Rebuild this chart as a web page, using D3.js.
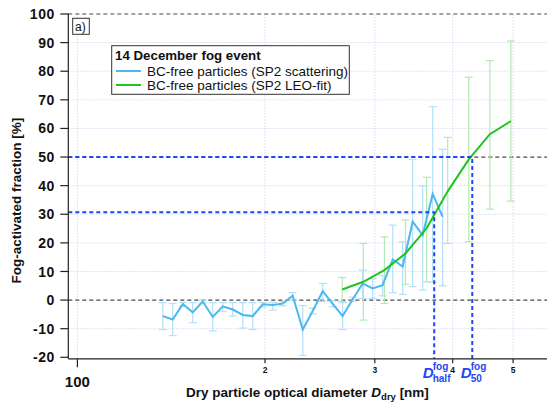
<!DOCTYPE html>
<html>
<head>
<meta charset="utf-8">
<script src="https://cdn.jsdelivr.net/npm/d3@7"></script>
<style>
  html, body { margin: 0; padding: 0; background: #fff; }
  svg { display: block; font-family: "Liberation Sans", Arial, sans-serif; }
</style>
</head>
<body>
<svg id="chart" width="547" height="405"></svg>
<script>
// BC-free particles, SP2 scattering (diameter in nm, activated fraction in %)
const scatDiam = [137.1, 142.2, 147.6, 153.1, 158.9, 164.9, 171.1, 177.5, 184.2, 191.1,
                  198.3, 205.8, 213.5, 221.5, 229.9, 238.5, 247.5, 256.8, 266.4, 276.5,
                  286.9, 297.6, 308.8, 320.5, 332.5, 345.0, 358.0, 371.5, 385.4];
const scatFrac = [-5.6, -6.8, -1.4, -4.3, -0.5, -5.9, -2.2, -3.3, -5.2, -5.6,
                  -1.5, -1.7, -1.2, 1.5, -10.3, -3.8, 3.1, -1.3, -5.6, 0.3,
                  5.8, 4.1, 5.2, 14.2, 11.7, 27.4, 22.7, 37.1, 29.1];
const scatHigh = [-0.9, -1.2, -0.8, -0.9, 0.0, -0.9, -0.9, -0.9, -0.9, -0.9,
                  -0.8, -0.8, -0.5, 2.6, -1.9, -2.8, 5.8, -0.3, -0.9, 1.0,
                  10.5, 7.5, 8.6, 26.2, 20.4, 49.2, 39.9, 67.6, 52.7];
const scatLow  = [-10.3, -12.4, -2.2, -7.9, -1.0, -10.8, -4.0, -5.6, -9.8, -10.3,
                  -2.4, -3.5, -2.0, 0.0, -19.3, -4.8, -0.5, -2.3, -10.3, -0.4,
                  0.6, 0.6, 1.5, 2.6, 2.0, 4.7, 3.5, 6.2, 5.0];

// BC-free particles, SP2 LEO-fit
const leoDiam = [266.0, 287.5, 310.8, 336.0, 363.3, 392.7, 424.5, 458.9, 496.0];
const leoFrac = [3.7, 6.4, 10.5, 16.3, 25.1, 38.0, 49.2, 58.0, 62.6];
const leoHigh = [7.9, 19.8, 22.1, 28.0, 42.9, 56.9, 77.9, 83.7, 90.6];
const leoLow  = [-0.5, -7.0, -1.2, 5.5, 6.4, 19.8, 20.4, 31.8, 34.6];

// Activation diameters and the fractions they refer to
const dHalf = 373.6, fHalf = 30.7;
const d50 = 430.0, f50 = 50;

// Axis ticks
const yTicks = [-20, -10, 0, 10, 20, 30, 40, 50, 60, 70, 80, 90, 100];
const xMajorTicks = [100];
const xMinorTicks = [200, 300, 400, 500];
const xMinorLabels = ["2", "3", "4", "5"];
const refLines = [0, 50, 100];

const svg = d3.select("#chart");
const plotLeft = 68.3, plotRight = 547, plotTop = 14.0, plotBottom = 357.3;

const x = d3.scaleLog().domain([96.7, 566.7]).range([plotLeft, plotRight]);
const y = d3.scaleLinear().domain([-20, 100]).range([plotBottom, plotTop]);

const BLUE = "#4db8ef", BLUE_ERR = "#b4e0f8";
const GREEN = "#1fc41f", GREEN_ERR = "#b2eab2";
const REF_BLUE = "#1f48f2";

// Grid
const grid = svg.append("g").attr("stroke", "#e2e2f6").attr("stroke-width", 1).attr("stroke-dasharray", "2,1");
yTicks.filter(v => v > -20 && v < 100 && !refLines.includes(v)).forEach(v => {
  grid.append("line").attr("x1", plotLeft).attr("x2", plotRight).attr("y1", y(v)).attr("y2", y(v));
});
xMajorTicks.concat(xMinorTicks).forEach(v => {
  grid.append("line").attr("x1", x(v)).attr("x2", x(v)).attr("y1", plotTop).attr("y2", plotBottom);
});

// Black dashed reference lines
svg.append("g").selectAll("line").data(refLines).join("line")
  .attr("x1", plotLeft).attr("x2", plotRight)
  .attr("y1", d => y(d)).attr("y2", d => y(d))
  .attr("stroke", "#4a4a4a").attr("stroke-width", 1.2).attr("stroke-dasharray", "4,3");

// Error bars
function errorBars(diam, hi, lo, color) {
  const g = svg.append("g").attr("stroke", color).attr("stroke-width", 1.2);
  diam.forEach((d, i) => {
    const cx = x(d);
    g.append("line").attr("x1", cx).attr("x2", cx).attr("y1", y(hi[i])).attr("y2", y(lo[i]));
    g.append("line").attr("x1", cx - 4).attr("x2", cx + 4).attr("y1", y(hi[i])).attr("y2", y(hi[i]));
    g.append("line").attr("x1", cx - 4).attr("x2", cx + 4).attr("y1", y(lo[i])).attr("y2", y(lo[i]));
  });
}
errorBars(leoDiam, leoHigh, leoLow, GREEN_ERR);
errorBars(scatDiam, scatHigh, scatLow, BLUE_ERR);

// Series lines
const line = d3.line().x(d => x(d[0])).y(d => y(d[1]));
svg.append("path").datum(scatDiam.map((d, i) => [d, scatFrac[i]]))
  .attr("d", line).attr("fill", "none").attr("stroke", BLUE).attr("stroke-width", 2);
svg.append("path").datum(leoDiam.map((d, i) => [d, leoFrac[i]]))
  .attr("d", line).attr("fill", "none").attr("stroke", GREEN).attr("stroke-width", 2);

// Activation diameter markers
const refs = svg.append("g").attr("stroke", REF_BLUE).attr("stroke-width", 2).attr("stroke-dasharray", "4,3").attr("fill", "none");
[[dHalf, fHalf], [d50, f50]].forEach(([d, f]) => {
  refs.append("path").attr("d", `M${plotLeft},${y(f)}H${x(d)}V${plotBottom + 1.5}`);
});

// Axes
const axes = svg.append("g").attr("stroke", "#222").attr("stroke-width", 1.2);
axes.append("line").attr("x1", plotLeft).attr("x2", plotLeft).attr("y1", plotTop - 0.5).attr("y2", plotBottom + 1.5);
axes.append("line").attr("x1", plotLeft).attr("x2", plotRight).attr("y1", plotBottom + 1.5).attr("y2", plotBottom + 1.5);
yTicks.forEach(v => {
  axes.append("line").attr("x1", plotLeft - 8).attr("x2", plotLeft).attr("y1", y(v)).attr("y2", y(v));
});
xMajorTicks.forEach(v => {
  axes.append("line").attr("x1", x(v)).attr("x2", x(v)).attr("y1", plotBottom + 1.5).attr("y2", plotBottom + 10);
});
xMinorTicks.forEach(v => {
  axes.append("line").attr("x1", x(v)).attr("x2", x(v)).attr("y1", plotBottom + 1.5).attr("y2", plotBottom + 6);
});

svg.append("g").selectAll("text").data(yTicks).join("text")
  .attr("x", 55).attr("y", d => y(d)).attr("dy", "0.36em")
  .attr("text-anchor", "end").attr("font-size", 14).attr("font-weight", "bold")
  .attr("letter-spacing", 0.6).attr("fill", "#111").text(d => d);

svg.append("g").selectAll("text").data(xMajorTicks).join("text")
  .attr("x", d => x(d)).attr("y", 386.5).attr("text-anchor", "middle")
  .attr("font-size", 15).attr("font-weight", "bold").attr("fill", "#111").text(d => d);
svg.append("g").selectAll("text").data(xMinorTicks).join("text")
  .attr("x", d => x(d)).attr("y", 372.8).attr("text-anchor", "middle")
  .attr("font-size", 8.5).attr("font-weight", "bold").attr("fill", "#111")
  .text((d, i) => xMinorLabels[i]);

// Axis titles
svg.append("text").attr("transform", `translate(21,${(plotTop + plotBottom) / 2 + 15}) rotate(-90)`)
  .attr("text-anchor", "middle").attr("font-size", 13.5).attr("font-weight", "bold").attr("fill", "#111")
  .text("Fog-activated fraction [%]");
const xt = svg.append("text").attr("x", 186).attr("y", 396.5)
  .attr("font-size", 13.5).attr("font-weight", "bold").attr("fill", "#111");
xt.append("tspan").text("Dry particle optical diameter ");
xt.append("tspan").attr("font-style", "italic").text("D");
xt.append("tspan").attr("font-size", 9.5).attr("dy", 3).text("dry");
xt.append("tspan").attr("dy", -3).text(" [nm]");

// Activation diameter labels
function dLabel(d, sub) {
  const cx = x(d);
  const g = svg.append("g").attr("fill", REF_BLUE).attr("font-weight", "bold");
  g.append("text").attr("x", cx - 11.5).attr("y", 377.5).attr("font-size", 15).attr("font-style", "italic").text("D");
  g.append("text").attr("x", cx - 1.5).attr("y", 370).attr("font-size", 10).text("fog");
  g.append("text").attr("x", cx - 1.5).attr("y", 381.5).attr("font-size", 10).text(sub);
}
dLabel(dHalf, "half");
dLabel(d50, "50");

// Panel tag
svg.append("rect").attr("x", 72.7).attr("y", 18.3).attr("width", 16.6).attr("height", 16)
  .attr("fill", "#fff").attr("stroke", "#333").attr("stroke-width", 1);
svg.append("text").attr("x", 75).attr("y", 30.5).attr("font-size", 12).attr("fill", "#111").text("a)");

// Legend
const lg = svg.append("g");
lg.append("rect").attr("x", 111.7).attr("y", 45.7).attr("width", 237.6).attr("height", 48.6)
  .attr("fill", "#fff").attr("stroke", "#333").attr("stroke-width", 1);
lg.append("text").attr("x", 115).attr("y", 59.5).attr("font-size", 13.3).attr("font-weight", "bold")
  .attr("fill", "#111").text("14 December fog event");
const entries = [["BC-free particles (SP2 scattering)", BLUE], ["BC-free particles (SP2 LEO-fit)", GREEN]];
entries.forEach(([label, color], i) => {
  const yy = 71 + i * 14;
  lg.append("line").attr("x1", 116).attr("x2", 141).attr("y1", yy).attr("y2", yy)
    .attr("stroke", color).attr("stroke-width", 2);
  lg.append("text").attr("x", 147).attr("y", yy + 5).attr("font-size", 13.5)
    .attr("fill", "#111").text(label);
});
</script>
</body>
</html>
